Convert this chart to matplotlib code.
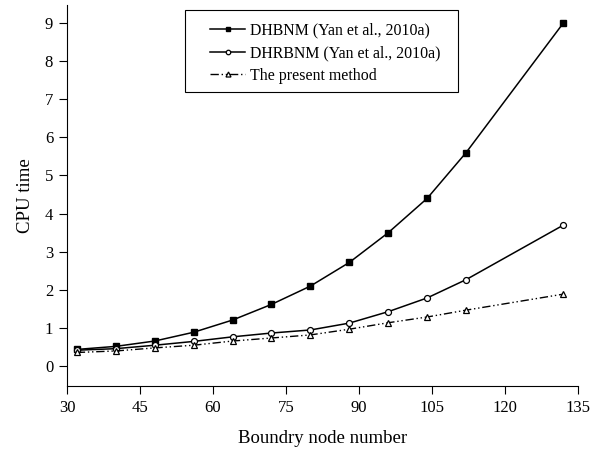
import numpy as np
import matplotlib
matplotlib.use('Agg')
import matplotlib.pyplot as plt
from matplotlib.patches import Rectangle

plt.rcParams['font.family'] = 'Liberation Serif'

# boundary node numbers and CPU times
nodes = [32, 40, 48, 56, 64, 72, 80, 88, 96, 104, 112, 132]
dhbnm = [0.44, 0.52, 0.66, 0.89, 1.21, 1.62, 2.1, 2.72, 3.5, 4.4, 5.6, 9.0]
dhrbnm = [0.42, 0.46, 0.55, 0.65, 0.77, 0.87, 0.95, 1.13, 1.43, 1.79, 2.27, 3.7]
present = [0.36, 0.40, 0.48, 0.55, 0.66, 0.74, 0.82, 0.97, 1.14, 1.29, 1.47, 1.89]

fig = plt.figure(figsize=(6.04, 4.51), dpi=100)
ax = fig.add_axes([0.111, 0.144, 0.846, 0.845])

ax.plot(nodes, dhbnm, color='black', lw=1.1, marker='s', ms=3.8,
        mfc='black', label='DHBNM (Yan et al., 2010a)')
ax.plot(nodes, dhrbnm, color='black', lw=1.1, marker='o', ms=4.3,
        mfc='white', mew=0.9, label='DHRBNM (Yan et al., 2010a)')
ax.plot(nodes, present, color='black', lw=1.0, marker='^', ms=4.8,
        mfc='white', mew=0.9, linestyle=(0, (6, 2, 1, 2, 1, 2)),
        label='The present method')

ax.set_xlim(30, 135)
ax.set_ylim(-0.52, 9.47)
ax.set_xticks(np.arange(30, 136, 15))
ax.set_yticks(np.arange(0, 10, 1))
ax.spines['top'].set_visible(False)
ax.spines['right'].set_visible(False)
ax.tick_params(direction='out', length=6, pad=4, labelsize=12)

ax.set_xlabel('Boundry node number', fontsize=13.5, labelpad=10)
ax.set_ylabel('CPU time', fontsize=13.5, labelpad=8)

# legend box drawn separately so the inner padding can be wider
ax.add_patch(Rectangle((0.231, 0.772), 0.534, 0.215, transform=ax.transAxes,
                       fill=False, edgecolor='black', lw=0.8, zorder=5))
leg = ax.legend(loc='upper left', bbox_to_anchor=(0.28, 0.953), borderaxespad=0,
                fontsize=11.4, frameon=False, borderpad=0,
                handlelength=2.2, handletextpad=0.3, labelspacing=0.4,
                markerscale=0.75)

plt.savefig('out.png')
